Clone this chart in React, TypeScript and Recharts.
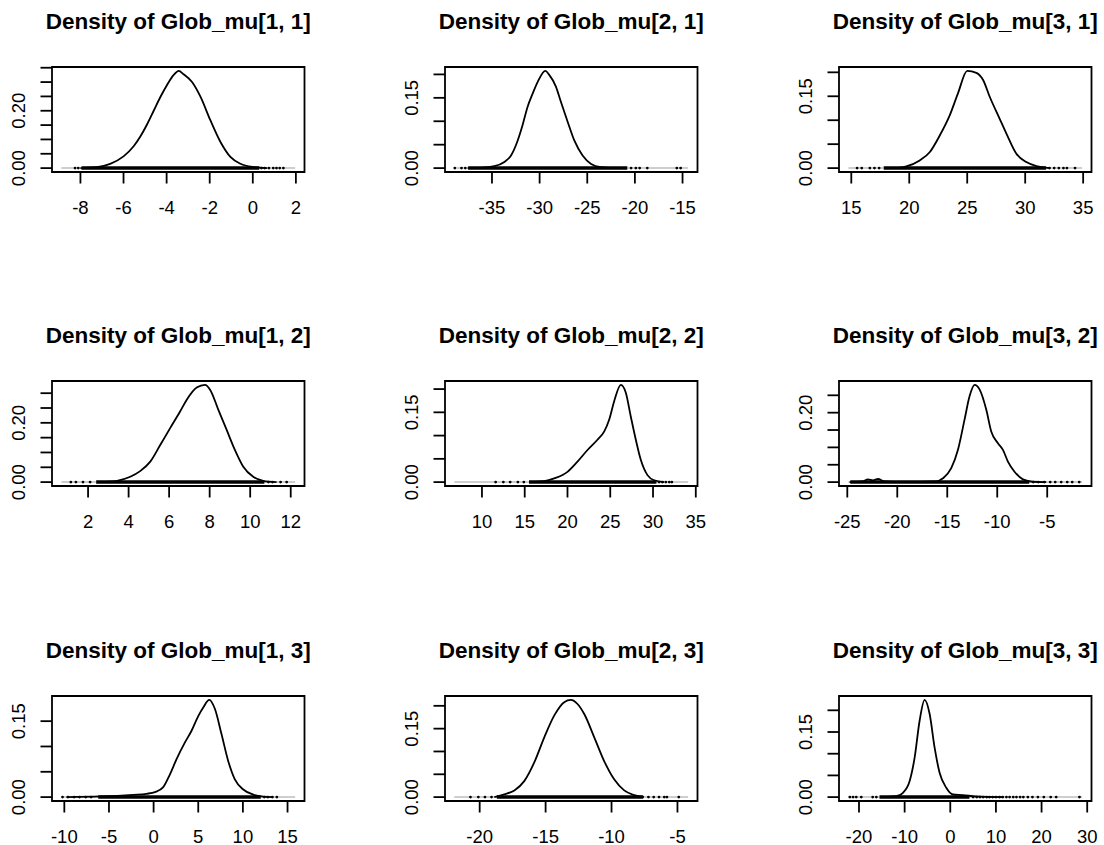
import React from 'react';
import {
  ComposedChart,
  Line,
  XAxis,
  YAxis,
  ReferenceArea,
  ReferenceLine,
  ReferenceDot,
} from 'recharts';

const FONT = '"Liberation Sans", Arial, Helvetica, sans-serif';

// ---------- data ----------
const titles = [
  'Density of Glob_mu[1, 1]', 'Density of Glob_mu[2, 1]', 'Density of Glob_mu[3, 1]',
  'Density of Glob_mu[1, 2]', 'Density of Glob_mu[2, 2]', 'Density of Glob_mu[3, 2]',
  'Density of Glob_mu[1, 3]', 'Density of Glob_mu[2, 3]', 'Density of Glob_mu[3, 3]',
];

const dens11: [number, number][] = [[-8.0,0],[-7.24,0.0035],[-6.62,0.015],[-6.0,0.041],[-5.53,0.076],[-5.22,0.11],[-4.91,0.152],[-4.6,0.2],[-4.29,0.248],[-3.98,0.29],[-3.67,0.325],[-3.44,0.339],[-3.21,0.327],[-2.82,0.3],[-2.43,0.249],[-1.97,0.167],[-1.5,0.091],[-1.04,0.039],[-0.57,0.015],[0.05,0.0035],[0.67,0]];
const dens21: [number, number][] = [[-37.55,0],[-36.15,0.0007],[-34.76,0.004],[-33.7,0.013],[-33.0,0.027],[-32.3,0.059],[-31.8,0.091],[-31.26,0.131],[-30.73,0.159],[-30.2,0.184],[-29.4,0.2075],[-28.99,0.199],[-28.29,0.174],[-27.76,0.141],[-27.06,0.099],[-26.36,0.059],[-25.49,0.027],[-24.6,0.009],[-23.57,0.002],[-22.2,0]];
const dens31: [number, number][] = [[18.9,0],[19.75,0.0035],[20.9,0.016],[21.76,0.033],[22.63,0.068],[23.49,0.11],[24.2,0.156],[25.0,0.203],[25.79,0.199],[26.37,0.184],[26.94,0.149],[27.8,0.103],[28.38,0.072],[29.24,0.03],[30.1,0.0126],[30.97,0.004],[32.1,0]];
const dens12: [number, number][] = [[2.61,0],[3.43,0.0045],[4.08,0.018],[4.57,0.037],[5.07,0.069],[5.56,0.125],[6.05,0.182],[6.54,0.238],[6.87,0.278],[7.36,0.319],[7.77,0.328],[8.02,0.312],[8.43,0.244],[8.84,0.176],[9.25,0.108],[9.66,0.052],[10.15,0.018],[10.64,0.0045],[11.3,0]];
const dens22: [number, number][] = [[15.72,0],[17.28,0.002],[18.45,0.008],[20.0,0.022],[21.17,0.044],[22.34,0.069],[23.5,0.091],[24.3,0.109],[24.87,0.134],[25.46,0.174],[26.24,0.209],[26.82,0.192],[27.4,0.141],[27.99,0.091],[28.57,0.048],[29.35,0.015],[30.13,0.004],[31.3,0]];
const dens32: [number, number][] = [[-24.77,0],[-23.43,0.002],[-22.93,0.008],[-22.43,0.005],[-21.93,0.009],[-21.27,0.002],[-19.43,0],[-16.1,0.002],[-15.43,0.011],[-14.6,0.04],[-13.93,0.093],[-13.27,0.18],[-12.77,0.247],[-12.27,0.28],[-11.77,0.267],[-11.1,0.209],[-10.6,0.146],[-9.93,0.112],[-9.43,0.093],[-8.93,0.059],[-8.27,0.03],[-7.43,0.008],[-6.43,0.001],[-5.1,0]];
const dens13: [number, number][] = [[-9.74,0],[-6.0,0.0013],[-2.28,0.0046],[-0.78,0.0066],[0.15,0.0099],[1.08,0.0198],[1.83,0.045],[2.57,0.075],[3.51,0.108],[4.25,0.131],[5.0,0.16],[5.56,0.177],[6.23,0.192],[6.87,0.174],[7.61,0.124],[8.36,0.071],[9.1,0.035],[10.04,0.015],[11.16,0.005],[12.28,0.001],[13.4,0]];
const dens23: [number, number][] = [[-18.89,0],[-18.13,0.006],[-17.37,0.0147],[-16.62,0.035],[-15.86,0.076],[-15.1,0.131],[-14.34,0.179],[-13.59,0.208],[-13.08,0.213],[-12.58,0.204],[-12.07,0.182],[-11.31,0.131],[-10.56,0.079],[-9.8,0.039],[-9.04,0.0147],[-8.28,0.0044],[-7.53,0]];
const dens33: [number, number][] = [[-14.74,0],[-11.82,0.002],[-10.36,0.01],[-8.9,0.037],[-7.81,0.091],[-6.72,0.176],[-5.62,0.224],[-4.53,0.192],[-3.43,0.114],[-2.34,0.056],[-0.88,0.0216],[0.58,0.006],[2.77,0.0046],[5.69,0.0015],[11.53,0]];

const curves = [dens11, dens21, dens31, dens12, dens22, dens32, dens13, dens23, dens33];

// x axis ranges and ticks
const xLims: [number, number][] = [
  [-9.32, 2.40], [-39.93, -13.43], [13.94, 35.72],
  [0.22, 12.68], [5.68, 35.2], [-25.83, -0.57],
  [-11.38, 16.9], [-22.63, -3.48], [-24.38, 30.94],
];
const xTicks: number[][] = [
  [-8, -6, -4, -2, 0, 2], [-35, -30, -25, -20, -15], [15, 20, 25, 30, 35],
  [2, 4, 6, 8, 10, 12], [10, 15, 20, 25, 30, 35], [-25, -20, -15, -10, -5],
  [-10, -5, 0, 5, 10, 15], [-20, -15, -10, -5], [-20, -10, 0, 10, 20, 30],
];

// y axis: peak density, ticks, labelled ticks
const peaks = [0.339, 0.2075, 0.203, 0.328, 0.209, 0.28, 0.192, 0.213, 0.224];
const yTicks: number[][] = [
  [0, 0.05, 0.1, 0.15, 0.2, 0.25, 0.3, 0.35],
  [0, 0.05, 0.1, 0.15, 0.2],
  [0, 0.05, 0.1, 0.15, 0.2],
  [0, 0.05, 0.1, 0.15, 0.2, 0.25, 0.3],
  [0, 0.05, 0.1, 0.15, 0.2],
  [0, 0.05, 0.1, 0.15, 0.2, 0.25],
  [0, 0.05, 0.1, 0.15],
  [0, 0.05, 0.1, 0.15, 0.2],
  [0, 0.05, 0.1, 0.15, 0.2],
];
const yLabels: number[][] = [
  [0, 0.2], [0, 0.15], [0, 0.15],
  [0, 0.2], [0, 0.15], [0, 0.2],
  [0, 0.15], [0, 0.15], [0, 0.15],
];

// observations (rug): dense range and isolated tail observations
const obsRanges: [number, number][] = [
  [-7.95, 0.3], [-37.5, -20.8], [17.8, 31.8],
  [2.4, 10.7], [15.5, 30.4], [-24.7, -6.8],
  [-6.2, 12.0], [-18.7, -7.6], [-15.5, 4.2],
];
const obsTails: number[][] = [
  [-8.25, -8.1, 0.4, 0.55, 0.75, 0.95, 1.1, 1.25, 1.42],
  [-38.9, -38.2, -37.8, -20.4, -19.9, -19.5, -18.7, -15.6, -15.2],
  [15.5, 15.9, 16.6, 17.0, 17.4, 32.1, 32.5, 32.9, 33.3, 33.6, 34.3],
  [1.15, 1.4, 1.75, 2.1, 10.9, 11.1, 11.5, 11.8],
  [11.6, 12.5, 13.3, 14.2, 14.9, 30.7, 31.1, 31.5, 31.9, 32.2],
  [-6.4, -5.9, -5.3, -4.7, -4.2, -3.6, -3.0, -2.5, -1.8],
  [-10.2, -9.6, -8.9, -8.3, -7.6, -7.0, 12.4, 12.8, 13.3, 13.8],
  [-20.7, -20.1, -19.6, -19.1, -7.2, -6.8, -6.4, -6.0, -5.8, -4.9],
  [-22.0, -21.3, -20.6, -19.5, -17.0, -16.2, 5.0, 5.8, 6.5, 7.2, 8.0, 8.6, 9.3, 10.0, 10.8, 11.5, 12.3, 13.0, 13.8, 14.5, 15.3, 16.0, 17.0, 18.0, 19.2, 20.5, 22.0, 23.2, 28.3],
];

// ---------- layout ----------
const COL_LEFT = [52, 445.3, 838.7];
const ROW_TOP = [67, 380.5, 695.5];
const PLOT_W = 252.5;
const PLOT_H = 105;
const Y_AXIS_W = 55;
const X_AXIS_H = 50;
const TOP_M = 67;
const CHART_W = 322;
const CHART_H = TOP_M + PLOT_H + X_AXIS_H;
const TICK_LEN = 11.5;
const AXIS_FS = 18.5;
const TITLE_FS = 22.5;
const LW = 1.8;

const XTick = (props: any) => {
  const { x, y, payload } = props;
  return (
    <g>
      <line x1={x} x2={x} y1={y} y2={y + TICK_LEN} stroke="#000" strokeWidth={LW} />
      <text x={x} y={y + 41.6} textAnchor="middle" fontSize={AXIS_FS} fontFamily={FONT} fill="#000">
        {String(payload.value)}
      </text>
    </g>
  );
};

const makeYTick = (labels: number[]) => (props: any) => {
  const { x, y, payload } = props;
  const show = labels.some((l) => Math.abs(l - payload.value) < 1e-9);
  const tx = x - 27;
  return (
    <g>
      <line x1={x - TICK_LEN} x2={x} y1={y} y2={y} stroke="#000" strokeWidth={LW} />
      {show && (
        <text
          x={tx}
          y={y}
          transform={`rotate(-90, ${tx}, ${y})`}
          textAnchor="middle"
          fontSize={AXIS_FS}
          fontFamily={FONT}
          fill="#000"
        >
          {payload.value.toFixed(2)}
        </text>
      )}
    </g>
  );
};

const Panel = ({ i }: { i: number }) => {
  const col = i % 3;
  const row = Math.floor(i / 3);
  const [x0, x1] = xLims[i];
  const yLo = -0.04 * peaks[i];
  const yHi = 1.04 * peaks[i];
  const inner = (x1 - x0) * (0.04 / 1.08);
  const data = curves[i].map(([x, y]) => ({ x, y }));
  const YTick = makeYTick(yLabels[i]);
  return (
    <div
      style={{
        position: 'absolute',
        left: COL_LEFT[col] - Y_AXIS_W,
        top: ROW_TOP[row] - TOP_M,
        width: CHART_W,
        height: CHART_H,
      }}
    >
      <ComposedChart
        width={CHART_W}
        height={CHART_H}
        margin={{ top: TOP_M, right: CHART_W - Y_AXIS_W - PLOT_W, bottom: 0, left: 0 }}
      >
        <XAxis
          dataKey="x"
          type="number"
          domain={[x0, x1]}
          ticks={xTicks[i]}
          interval={0}
          allowDataOverflow
          height={X_AXIS_H}
          tickSize={0}
          tickMargin={0}
          axisLine={false}
          tickLine={false}
          tick={<XTick />}
        />
        <YAxis
          type="number"
          domain={[yLo, yHi]}
          ticks={yTicks[i]}
          interval={0}
          allowDataOverflow
          width={Y_AXIS_W}
          tickSize={0}
          tickMargin={0}
          axisLine={false}
          tickLine={false}
          tick={<YTick />}
        />
        <ReferenceLine
          segment={[{ x: x0 + inner, y: 0 }, { x: x1 - inner, y: 0 }]}
          stroke="#bebebe"
          strokeWidth={1.5}
        />
        <ReferenceLine
          segment={[{ x: obsRanges[i][0], y: 0 }, { x: obsRanges[i][1], y: 0 }]}
          stroke="#000"
          strokeWidth={3.5}
        />
        {obsTails[i].map((v, k) => (
          <ReferenceDot key={k} x={v} y={0} r={1.4} fill="#000" stroke="none" />
        ))}
        <Line
          data={data}
          dataKey="y"
          type="monotone"
          dot={false}
          stroke="#000"
          strokeWidth={LW}
          isAnimationActive={false}
        />
        <ReferenceArea
          x1={x0}
          x2={x1}
          y1={yLo}
          y2={yHi}
          fill="none"
          stroke="#000"
          strokeWidth={LW}
          ifOverflow="visible"
        />
        <text
          x={Y_AXIS_W + PLOT_W / 2}
          y={TOP_M - 38.5}
          textAnchor="middle"
          fontSize={TITLE_FS}
          fontWeight="bold"
          fontFamily={FONT}
          fill="#000"
        >
          {titles[i]}
        </text>
      </ComposedChart>
    </div>
  );
}

export default function App() {
  return (
    <div
      style={{
        position: 'absolute',
        left: 0,
        top: 0,
        width: 1104,
        height: 845,
        background: '#fff',
        overflow: 'hidden',
      }}
    >
      {titles.map((_, i) => (
        <Panel key={i} i={i} />
      ))}
    </div>
  );
}
